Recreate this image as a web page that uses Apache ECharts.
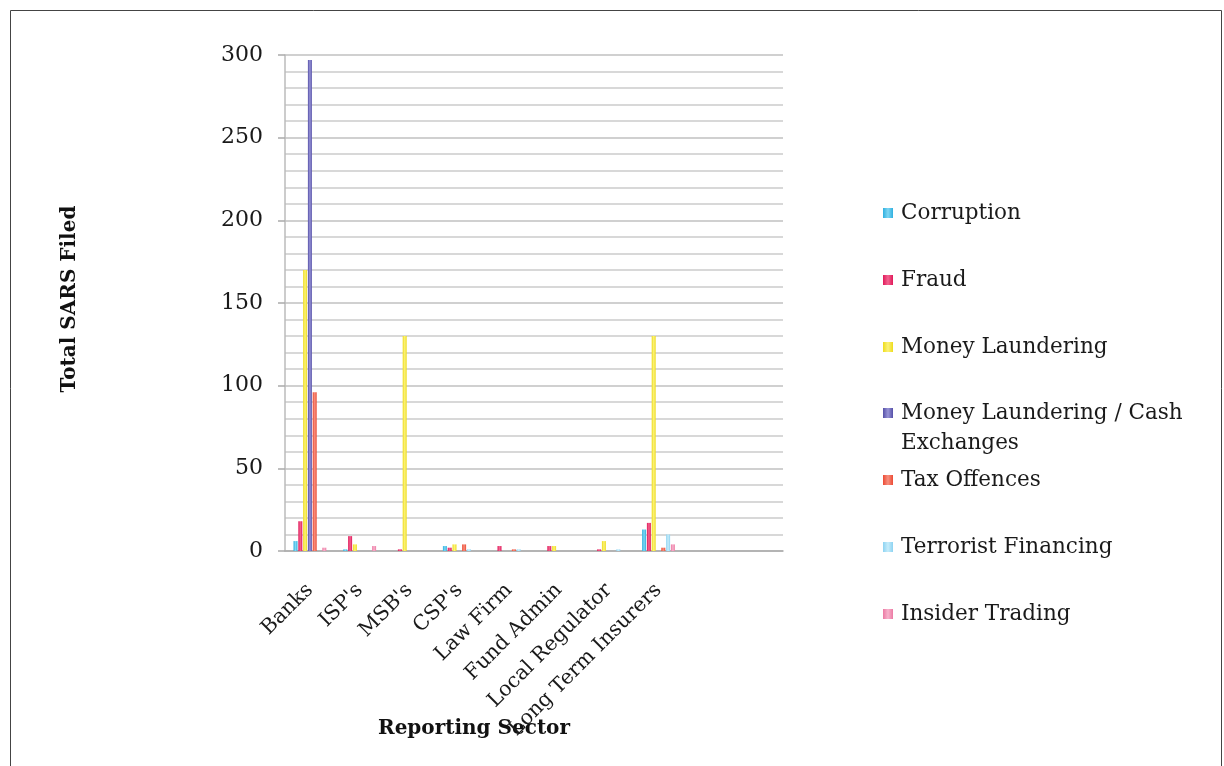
<!DOCTYPE html>
<html>
<head>
<meta charset="utf-8">
<title>Total SARS Filed by Reporting Sector</title>
<script src="https://cdn.jsdelivr.net/npm/echarts@6/dist/echarts.min.js"></script>
<style>
  html, body { margin: 0; padding: 0; background: #fff; overflow: hidden; }
  #sars-bar { width: 1224px; height: 766px; }
</style>
</head>
<body>
<div id="sars-bar"></div>
<script>
// sectors (last two slots are empty in the original chart)
const sectors = ['Banks', "ISP's", "MSB's", "CSP's", 'Law Firm', 'Fund Admin', 'Local Regulator', 'Long Term Insurers', '', '']

const corruption = [6, 1, 0, 3, 0, 0, 0, 13, 0, 0]
const fraud = [18, 9, 1, 2, 3, 3, 1, 17, 0, 0]
const moneyLaundering = [170, 4, 130, 4, 0, 3, 6, 130, 0, 0]
const mlCashExchanges = [297, 0, 0, 0, 0, 0, 0, 0, 0, 0]
const taxOffences = [96, 0, 0, 4, 1, 0, 0, 2, 0, 0]
const terroristFinancing = [0, 0, 0, 1, 1, 0, 1, 10, 0, 0]
const insiderTrading = [2, 3, 0, 0, 0, 0, 0, 4, 0, 0]

const yTicks = [0, 50, 100, 150, 200, 250, 300]

const serif = 'DejaVu Serif'

// name, data, edge colour, centre colour
const seriesDefs = [
  ['Corruption', corruption, '#2fb0e0', '#7fd6f2'],
  ['Fraud', fraud, '#e0195a', '#f2648f'],
  ['Money Laundering', moneyLaundering, '#eedc1c', '#fbf27a'],
  ['Money Laundering / Cash Exchanges', mlCashExchanges, '#5550a8', '#9894d6'],
  ['Tax Offences', taxOffences, '#ec4a34', '#f6907f'],
  ['Terrorist Financing', terroristFinancing, '#8dd3f2', '#c6ecfa'],
  ['Insider Trading', insiderTrading, '#ec7aa4', '#f7b3cc']
]

const legendTops = [211, 278, 345, 411, 478, 545, 612]

const barGradient = (edge, mid) =>
  new echarts.graphic.LinearGradient(0, 0, 1, 0, [
    { offset: 0, color: edge },
    { offset: 0.5, color: mid },
    { offset: 1, color: edge }
  ])

const legends = seriesDefs.map((d, i) => {
  const twoLine = i === 3
  return {
    data: [d[0]],
    orient: 'vertical',
    left: 883,
    top: twoLine ? legendTops[i] - 13 : legendTops[i] - 13,
    padding: 0,
    itemWidth: 10,
    itemHeight: twoLine ? 40 : 10,
    icon: twoLine ? 'path://M0,0L10,0L10,10L0,10Z M0,40L0.001,40' : 'rect',
    formatter: (name) => (twoLine ? 'Money Laundering / Cash\nExchanges' : name),
    selectedMode: false,
    textStyle: {
      fontFamily: serif,
      fontSize: 21.5,
      color: '#1a1a1a',
      lineHeight: 30,
      padding: [0, 0, 0, 3]
    }
  }
})

const option = {
  animation: false,
  backgroundColor: '#fff',
  grid: {
    left: 285,
    top: 55,
    width: 498,
    height: 496,
    containLabel: false
  },
  legend: legends,
  xAxis: {
    type: 'category',
    data: sectors,
    axisLine: { lineStyle: { color: '#aaa', width: 1.5 } },
    axisTick: { show: false },
    axisLabel: {
      interval: 0,
      rotate: 45,
      margin: 36,
      fontFamily: serif,
      fontSize: 20.5,
      color: '#1a1a1a'
    }
  },
  yAxis: {
    type: 'value',
    min: 0,
    max: yTicks[yTicks.length - 1],
    interval: 50,
    axisLine: { show: true, lineStyle: { color: '#bbb', width: 1.5 } },
    axisTick: { show: true, inside: false, length: 7, lineStyle: { color: '#aaa', width: 1.5 } },
    axisLabel: {
      margin: 22,
      fontFamily: serif,
      fontSize: 22,
      color: '#1a1a1a'
    },
    splitLine: { lineStyle: { color: '#c0c0c0', width: 1.5 } },
    minorTick: { show: false, splitNumber: 5 },
    minorSplitLine: { show: true, lineStyle: { color: '#cbcbcb', width: 1.5 } }
  },
  graphic: [
    {
      type: 'rect',
      shape: { x: 10.5, y: 10.5, width: 1211, height: 800 },
      style: { fill: 'none', stroke: '#444', lineWidth: 1 },
      silent: true
    },
    {
      type: 'text',
      x: 70,
      y: 299,
      rotation: Math.PI / 2,
      style: {
        text: 'Total SARS Filed',
        fontFamily: serif,
        fontWeight: 'bold',
        fontSize: 20,
        fill: '#111',
        align: 'center',
        verticalAlign: 'middle'
      }
    },
    {
      type: 'text',
      x: 474,
      y: 729,
      style: {
        text: 'Reporting Sector',
        fontFamily: serif,
        fontWeight: 'bold',
        fontSize: 20,
        fill: '#111',
        align: 'center',
        verticalAlign: 'middle'
      }
    }
  ],
  series: seriesDefs.map((d) => ({
    name: d[0],
    type: 'bar',
    data: d[1],
    barWidth: 4,
    barGap: '20%',
    itemStyle: { color: barGradient(d[2], d[3]) }
  }))
}

const chart = echarts.init(document.getElementById('sars-bar'))
chart.setOption(option)
</script>
</body>
</html>
